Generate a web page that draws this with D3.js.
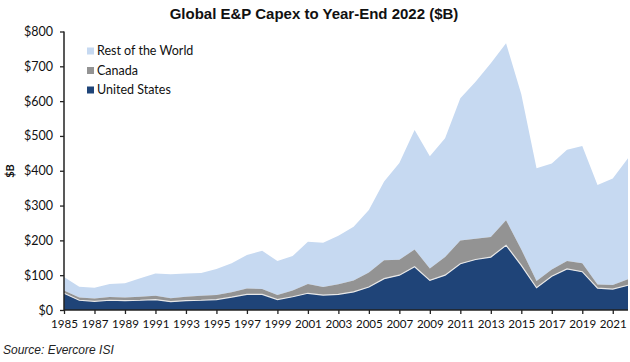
<!DOCTYPE html>
<html>
<head>
<meta charset="utf-8">
<script src="https://cdn.jsdelivr.net/npm/d3@7"></script>
<style>
  body { margin: 0; background: #fff; }
  svg { display: block; }
</style>
</head>
<body>
<div id="chart"></div>
<script>
const years = [1985, 1986, 1987, 1988, 1989, 1990, 1991, 1992, 1993, 1994,
  1995, 1996, 1997, 1998, 1999, 2000, 2001, 2002, 2003, 2004,
  2005, 2006, 2007, 2008, 2009, 2010, 2011, 2012, 2013, 2014,
  2015, 2016, 2017, 2018, 2019, 2020, 2021, 2022];

const unitedStates = [48, 28, 25, 28, 27, 28, 30, 24, 27, 28,
  30, 37, 45, 45, 30, 38, 48, 43, 45, 52,
  66, 90, 100, 124, 85, 100, 133, 145, 152, 186,
  128, 64, 97, 118, 110, 63, 60, 71];

const canada = [8, 8, 8, 9, 9, 10, 11, 10, 11, 13,
  13, 14, 17, 15, 13, 18, 27, 23, 29, 33,
  42, 53, 44, 50, 34, 52, 67, 60, 58, 72,
  46, 19, 19, 23, 24, 10, 12, 17];

const restOfWorld = [39, 31, 31, 38, 41, 53, 64, 69, 67, 65,
  75, 83, 96, 110, 98, 99, 121, 127, 139, 154,
  179, 226, 278, 343, 323, 341, 408, 451, 499, 508,
  446, 324, 305, 319, 337, 286, 306, 348];

const yTicks = [0, 100, 200, 300, 400, 500, 600, 700, 800];
const xTicks = [1985, 1987, 1989, 1991, 1993, 1995, 1997, 1999, 2001, 2003,
  2005, 2007, 2009, 2011, 2013, 2015, 2017, 2019, 2021];

const series = [
  { key: "us", name: "United States", values: unitedStates, color: "#1f4478" },
  { key: "canada", name: "Canada", values: canada, color: "#939393" },
  { key: "rest", name: "Rest of the World", values: restOfWorld, color: "#c6d9f1" }
];

const width = 630;
const height = 362;

const svg = d3.select("#chart")
  .append("svg")
  .attr("width", width)
  .attr("height", height);

const x = d3.scaleLinear().domain([1985, 2022]).range([64, 628]);
const y = d3.scaleLinear().domain([0, 800]).range([310, 31.5]);

// build the table for the stack
const table = years.map((yr, i) => {
  const row = { year: yr };
  series.forEach(s => { row[s.key] = s.values[i]; });
  return row;
});

const stacked = d3.stack().keys(series.map(s => s.key))(table);

const area = d3.area()
  .x(d => x(d.data.year))
  .y0(d => y(d[0]))
  .y1(d => y(d[1]));

// draw top layer first so lower ones sit over it
svg.append("g")
  .selectAll("path")
  .data(stacked.slice().reverse())
  .join("path")
  .attr("d", area)
  .attr("fill", d => series.find(s => s.key === d.key).color);

// thin white line on top of the US area
const topLine = d3.line()
  .x(d => x(d.data.year))
  .y(d => y(d[1]));

svg.append("path")
  .datum(stacked[0])
  .attr("d", topLine)
  .attr("fill", "none")
  .attr("stroke", "#e8e8e8")
  .attr("stroke-width", 1.2);

// axes
const labelFont = "Lato, 'Open Sans', sans-serif";

const yAxis = svg.append("g")
  .attr("transform", `translate(${x(1985)},0)`)
  .call(d3.axisLeft(y).tickValues(yTicks).tickSize(4).tickPadding(7).tickFormat(d => "$" + d));

const xAxis = svg.append("g")
  .attr("transform", `translate(0,${y(0)})`)
  .call(d3.axisBottom(x).tickValues(xTicks).tickSize(4).tickPadding(6).tickFormat(d3.format("d")));

[yAxis, xAxis].forEach(g => {
  g.select(".domain").attr("stroke", "#222").attr("stroke-width", 1.5);
  g.selectAll(".tick line").attr("stroke", "#222").attr("stroke-width", 1.3);
  g.selectAll(".tick text")
    .attr("fill", "#111")
    .style("font-family", labelFont)
    .style("font-size", "12.5px");
});
xAxis.selectAll(".tick text").style("font-size", "11.6px");
yAxis.select(".domain").attr("d", `M0,${y(800)}V${y(0)}`);
xAxis.select(".domain").attr("d", `M${x(1985)},0H${x(2022)}`);

// title
svg.append("text")
  .attr("x", 314)
  .attr("y", 19)
  .attr("text-anchor", "middle")
  .style("font-family", "'Liberation Sans', Arial, sans-serif")
  .style("font-weight", "bold")
  .style("font-size", "15px")
  .attr("fill", "#111")
  .text("Global E&P Capex to Year-End 2022 ($B)");

// y axis title
svg.append("text")
  .attr("transform", "translate(14,171) rotate(-90)")
  .attr("text-anchor", "middle")
  .style("font-family", labelFont)
  .style("font-weight", "bold")
  .style("font-size", "11px")
  .attr("fill", "#111")
  .text("$B");

// legend
const legend = svg.append("g").attr("transform", "translate(87,51)");
const legendItems = series.slice().reverse();
legend.selectAll("rect")
  .data(legendItems)
  .join("rect")
  .attr("x", 0)
  .attr("y", (d, i) => i * 19.5 - 3.5)
  .attr("width", 7)
  .attr("height", 7)
  .attr("fill", d => d.color);
legend.selectAll("text")
  .data(legendItems)
  .join("text")
  .attr("x", 10)
  .attr("y", (d, i) => i * 19.5)
  .attr("dy", "0.35em")
  .style("font-family", labelFont)
  .style("font-size", "12.5px")
  .attr("fill", "#111")
  .text(d => d.name);

// source note
svg.append("text")
  .attr("x", 3)
  .attr("y", 354)
  .style("font-family", "'Liberation Sans', Arial, sans-serif")
  .style("font-style", "italic")
  .style("font-size", "12px")
  .attr("fill", "#222")
  .text("Source: Evercore ISI");
</script>
</body>
</html>
